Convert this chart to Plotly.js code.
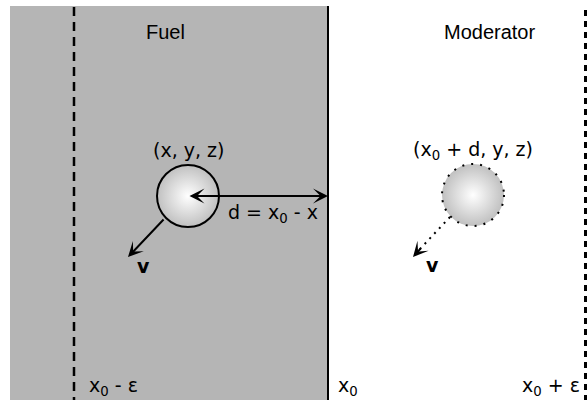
<!DOCTYPE html>
<html>
<head>
<meta charset="utf-8">
<script src="https://cdn.plot.ly/plotly-3.0.1.min.js"></script>
<style>html,body{margin:0;padding:0;background:#fff;}#chart{width:588px;height:400px;}</style>
</head>
<body>
<div id="chart"></div>
<script>
// ---- diagram data (pixel-like coordinate system, y grows downward) ----
const regionNames = ['Fuel', 'Moderator'];
const regionLabelX = [165, 489];
const boundaryX = [74, 328, 585.5];             // x0 - ε, x0, x0 + ε
const boundaryLabels = ['x<sub>0</sub> - ε', 'x<sub>0</sub>', 'x<sub>0</sub> + ε'];
const boundaryLabelX = [88, 337, 521];
const particleX = [188, 473];
const particleY = [196, 195];
const particleRadius = 31;
const particleLabels = ['(x, y, z)', '(x<sub>0</sub> + d, y, z)'];
const velocityTailX = [165, 450];
const velocityTailY = [218, 217];
const velocityTipX = [128, 413];
const velocityTipY = [257, 257];
const velocityLabelX = [143, 432];
const velocityLabelY = [266, 265];
const distanceLabel = 'd = x<sub>0</sub> - x';

const mathFont = {family: 'DejaVu Sans', size: 19, color: '#000'};
const titleFont = {family: 'Liberation Sans, Arial', size: 20, color: '#000'};

const shapes = [
  // fuel region
  {type: 'rect', xref: 'x', yref: 'y', x0: 10, x1: boundaryX[1], y0: 6, y1: 400,
   fillcolor: '#b5b5b5', line: {width: 0}, layer: 'below'},
  // x0 boundary
  {type: 'line', xref: 'x', yref: 'y', x0: boundaryX[1], x1: boundaryX[1], y0: 6, y1: 400,
   line: {color: '#000', width: 2}},
  // x0 - eps
  {type: 'line', xref: 'x', yref: 'y', x0: boundaryX[0], x1: boundaryX[0], y0: 7, y1: 400,
   line: {color: '#000', width: 2.5, dash: '9px,6px'}},
  // x0 + eps
  {type: 'line', xref: 'x', yref: 'y', x0: boundaryX[2], x1: boundaryX[2], y0: 10, y1: 400,
   line: {color: '#000', width: 3, dash: '6px,5px'}},
  // dotted outline of mirrored particle
  {type: 'circle', xref: 'x', yref: 'y',
   x0: particleX[1] - particleRadius, x1: particleX[1] + particleRadius,
   y0: particleY[1] - particleRadius, y1: particleY[1] + particleRadius,
   line: {color: '#000', width: 2, dash: '2px,7px'}},
  // dotted velocity of mirrored particle
  {type: 'line', xref: 'x', yref: 'y', x0: velocityTailX[1], y0: velocityTailY[1],
   x1: velocityTipX[1] + 6, y1: velocityTipY[1] - 7,
   line: {color: '#000', width: 2, dash: '2px,5px'}}
];

const annotations = [];
regionNames.forEach((t, i) => annotations.push({
  x: regionLabelX[i], y: 32, xref: 'x', yref: 'y', text: t, showarrow: false,
  font: titleFont, xanchor: 'center', yanchor: 'middle'}));
boundaryLabels.forEach((t, i) => annotations.push({
  x: boundaryLabelX[i], y: 0, xref: 'x', yref: 'paper', text: t, showarrow: false,
  font: mathFont, xanchor: 'left', yanchor: 'bottom', borderpad: 0}));
particleLabels.forEach((t, i) => annotations.push({
  x: particleX[i], y: 150, xref: 'x', yref: 'y', text: t, showarrow: false,
  font: mathFont, xanchor: 'center', yanchor: 'middle'}));
annotations.push({x: 273, y: 213, xref: 'x', yref: 'y', text: distanceLabel, showarrow: false,
  font: mathFont, xanchor: 'center', yanchor: 'middle'});
// distance arrow (double headed)
annotations.push({x: boundaryX[1], y: particleY[0], ax: particleX[0], ay: particleY[0],
  xref: 'x', yref: 'y', axref: 'x', ayref: 'y', text: '', showarrow: true,
  arrowside: 'end+start', arrowhead: 3, startarrowhead: 3, arrowsize: 1.25, startarrowsize: 1.25,
  arrowwidth: 2, arrowcolor: '#000'});
// solid velocity arrow
annotations.push({x: velocityTipX[0], y: velocityTipY[0], ax: velocityTailX[0], ay: velocityTailY[0],
  xref: 'x', yref: 'y', axref: 'x', ayref: 'y', text: '', showarrow: true,
  arrowhead: 3, arrowsize: 1.25, arrowwidth: 2, arrowcolor: '#000'});
// arrowhead of dotted velocity arrow
annotations.push({x: velocityTipX[1], y: velocityTipY[1], ax: velocityTipX[1] + 9, ay: velocityTipY[1] - 10,
  xref: 'x', yref: 'y', axref: 'x', ayref: 'y', text: '', showarrow: true,
  arrowhead: 3, arrowsize: 1.25, arrowwidth: 2, arrowcolor: '#000'});
velocityLabelX.forEach((vx, i) => annotations.push({
  x: vx, y: velocityLabelY[i], xref: 'x', yref: 'y', text: '<b>v</b>', showarrow: false,
  font: mathFont, xanchor: 'center', yanchor: 'middle'}));

const traces = [{
  type: 'scatter', mode: 'markers', x: particleX, y: particleY, hoverinfo: 'skip',
  marker: {size: particleRadius * 2, color: '#c0c0c0',
    gradient: {type: 'radial', color: '#ffffff'},
    line: {color: '#000', width: [2, 0]}}
}];

const layout = {
  width: 588, height: 400, margin: {l: 0, r: 0, t: 0, b: 0},
  paper_bgcolor: '#fff', plot_bgcolor: '#fff', showlegend: false,
  xaxis: {range: [0, 588], visible: false, fixedrange: true},
  yaxis: {range: [400, 0], visible: false, fixedrange: true},
  shapes: shapes, annotations: annotations
};
Plotly.newPlot('chart', traces, layout, {displayModeBar: false, staticPlot: true});
</script>
</body>
</html>
